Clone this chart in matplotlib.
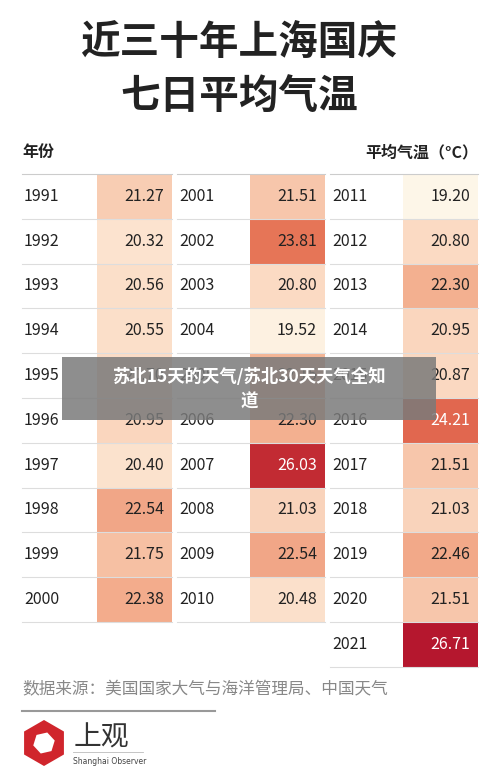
import matplotlib.pyplot as plt
from matplotlib.colors import LinearSegmentedColormap, Normalize
from matplotlib.patches import Rectangle, RegularPolygon

plt.rcParams['font.family'] = ['Noto Sans CJK SC', 'DejaVu Sans']

years_a = [1991, 1992, 1993, 1994, 1995, 1996, 1997, 1998, 1999, 2000]
temps_a = [21.27, 20.32, 20.56, 20.55, 20.70, 20.95, 20.40, 22.54, 21.75, 22.38]
years_b = [2001, 2002, 2003, 2004, 2005, 2006, 2007, 2008, 2009, 2010]
temps_b = [21.51, 23.81, 20.80, 19.52, 22.15, 22.30, 26.03, 21.03, 22.54, 20.48]
years_c = [2011, 2012, 2013, 2014, 2015, 2016, 2017, 2018, 2019, 2020, 2021]
temps_c = [19.20, 20.80, 22.30, 20.95, 20.87, 24.21, 21.51, 21.03, 22.46, 21.51, 26.71]

cmap = LinearSegmentedColormap.from_list(
    "temp", ["#fdf6e8", "#fbdcc6", "#f4b393", "#e8795a", "#d2433a", "#b5172e"])
norm = Normalize(19.2, 26.71)

fig = plt.figure(figsize=(5, 7.82), dpi=100)
ax = fig.add_axes([0, 0, 1, 1])
ax.set_xlim(0, 500)
ax.set_ylim(782, 0)
ax.axis("off")

fig.text(0.478, 1 - 42 / 782, "近三十年上海国庆", ha="center", va="center",
         fontsize=28.5, fontweight="bold", color="#222222")
fig.text(0.478, 1 - 97 / 782, "七日平均气温", ha="center", va="center",
         fontsize=28.5, fontweight="bold", color="#222222")
ax.text(22, 152, "年份", ha="left", va="center", fontsize=11.5, fontweight="bold", color="#222222")
ax.text(478, 152, "平均气温（°C）", ha="right", va="center", fontsize=11.5,
        fontweight="bold", color="#222222")

top, rh = 174, 44.8
blocks = [(22, 97, 172, years_a, temps_a), (177, 250, 325, years_b, temps_b),
          (330, 403, 478, years_c, temps_c)]
for x0, xm, x1, yrs, vals in blocks:
    ax.plot([x0, x1], [top, top], color="#cccccc", lw=0.8)
    for i, (yr, v) in enumerate(zip(yrs, vals)):
        y = top + i * rh
        ax.add_patch(Rectangle((xm, y), x1 - xm, rh, color=cmap(norm(v)), lw=0))
        ax.plot([x0, x1], [y + rh, y + rh], color="#dddddd", lw=0.8)
        ax.text(x0 + 2, y + rh / 2, str(yr), ha="left", va="center", fontsize=11.5, color="#222222")
        tc = "white" if v > 24 else "#222222"
        ax.text(x1 - 8, y + rh / 2, f"{v:.2f}", ha="right", va="center", fontsize=11.5, color=tc)

# overlay banner
ax.add_patch(Rectangle((62, 357), 374, 63, color="#7a7a7a", alpha=0.85, lw=0, zorder=5))
ax.text(249, 377, "苏北15天的天气/苏北30天天气全知", ha="center", va="center", fontsize=12.5,
        fontweight="bold", color="white", zorder=6)
ax.text(249, 402, "道", ha="center", va="center", fontsize=12.5, fontweight="bold",
        color="white", zorder=6)

ax.text(22, 690, "数据来源：美国国家大气与海洋管理局、中国天气", ha="left", va="center",
        fontsize=12, color="#888888")
ax.plot([22, 215], [711, 711], color="#999999", lw=1.5)

ax.add_patch(RegularPolygon((44, 743), 6, radius=23, color="#d0252c", lw=0))
ax.add_patch(RegularPolygon((44, 743), 6, radius=11, orientation=0.3, color="white", lw=0))
ax.text(74, 737, "上观", ha="left", va="center", fontsize=20, color="#333333")
ax.plot([73, 143], [752, 752], color="#bbbbbb", lw=0.6)
ax.text(73, 762, "Shanghai Observer", ha="left", va="center", fontsize=5.5,
        color="#444444", family="DejaVu Sans")

fig.savefig("out.png", dpi=100)
